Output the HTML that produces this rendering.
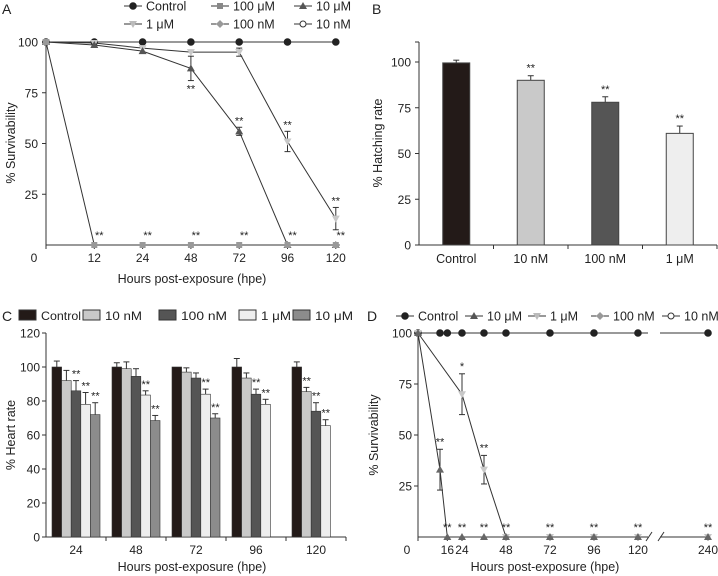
<!DOCTYPE html>
<html><head><meta charset="utf-8"><style>
body{margin:0;background:#fff}
svg{display:block;font-family:"Liberation Sans",sans-serif;}
text{fill:#222}
</style></head><body>
<svg id="fig" width="718" height="576" viewBox="0 0 718 576"></svg>
<script>
// Panel A data
const aCats=["0","12","24","48","72","96","120"];
const aControl=[100,100,100,100,100,100,100];
const a1uM=[100,99.5,97,95,95,51,13];
const a1uMErr=[0,0,0,0,2,5,5.5];
const a10uM=[100,98.5,95.5,87,56,0,0];
const a10uMErr=[0,0,0,6,2,0,0];
const a100uM=[100,0,0,0,0,0,0];
const aYTicks=[0,25,50,75,100];
// Panel B data
const bCats=["Control","10 nM","100 nM","1 μM"];
const bVals=[99.5,90,78,61];
const bErr=[1.5,2.5,3,4];
const bYTicks=[0,25,50,75,100];
// Panel C data
const cCats=["24","48","72","96","120"];
const cSeries=["Control","10 nM","100 nM","1 μM","10 μM"];
const cControl=[100,100,100,100,100];
const c10nM=[92,99,97,93.5,85.5];
const c100nM=[86,94.5,93.5,84,74];
const c1uM=[78,83.5,84,78,65.5];
const c10uM=[72,68.5,70,null,null];
const cErrControl=[3.5,2.5,0,5,3];
const cErr10nM=[6,4,2.5,3,2.5];
const cErr100nM=[6,4.5,3,3,5];
const cErr1uM=[7,2.5,3,3,3.5];
const cErr10uM=[7,3,2.5,0,0];
const cYTicks=[0,20,40,60,80,100,120];
// Panel D data
const dXTicks=[0,16,24,48,72,96,120,240];
const dControlT=[0,12,16,24,36,48,72,96,120,240];
const dControl=[100,100,100,100,100,100,100,100,100,100];
const d1uMT=[0,24,36,48,72,96,120,240];
const d1uM=[100,70,33,0,0,0,0,0];
const d1uMErr=[0,10,7,0,0,0,0,0];
const d10uMT=[0,12,16,24,36,48,72,96,120,240];
const d10uM=[100,33,0,0,0,0,0,0,0,0];
const d10uMErr=[0,10,0,0,0,0,0,0,0,0];
const dYTicks=[0,25,50,75,100];

const NS="http://www.w3.org/2000/svg";
const svg=document.getElementById('fig');
function el(tag,attrs,parent){const e=document.createElementNS(NS,tag);for(const k in attrs)e.setAttribute(k,attrs[k]);(parent||svg).appendChild(e);return e;}
function txt(x,y,s,size,anchor,parent){const t=el('text',{x:x,y:y,'font-size':size,'text-anchor':anchor||'middle'},parent);t.textContent=s;return t;}
function marker(g,type,x,y,fill){
  if(type==='circle')return el('circle',{cx:x,cy:y,r:3.3,fill:fill,stroke:'#222','stroke-width':1},g);
  if(type==='square')return el('rect',{x:x-3,y:y-3,width:6,height:6,fill:fill},g);
  if(type==='tri')return el('polygon',{points:`${x},${y-4} ${x-4},${y+3} ${x+4},${y+3}`,fill:fill},g);
  if(type==='dtri')return el('polygon',{points:`${x},${y+4} ${x-4},${y-3} ${x+4},${y-3}`,fill:fill},g);
  if(type==='diamond')return el('polygon',{points:`${x},${y-4} ${x+4},${y} ${x},${y+4} ${x-4},${y}`,fill:fill},g);
}
function legendLine(g,x,y,type,fill,label,open){
  el('line',{x1:x-9,y1:y,x2:x+9,y2:y,stroke:'#333','stroke-width':1},g);
  if(open) el('circle',{cx:x,cy:y,r:3,fill:'#fff',stroke:'#333','stroke-width':1},g);
  else marker(g,type,x,y,fill);
  txt(x+13,y+4.5,label,12.5,'start',g);
}
function errSym(g,x,y,d){el('line',{x1:x,y1:y-d,x2:x,y2:y+d,stroke:'#333'},g);el('line',{x1:x-3,y1:y-d,x2:x+3,y2:y-d,stroke:'#333'},g);el('line',{x1:x-3,y1:y+d,x2:x+3,y2:y+d,stroke:'#333'},g);}
function errUp(g,x,y1,y2){el('line',{x1:x,y1:y1,x2:x,y2:y2,stroke:'#333'},g);el('line',{x1:x-3,y1:y2,x2:x+3,y2:y2,stroke:'#333'},g);}

// ===== Panel A =====
(function(){
const g=el('g',{});  
const x0=46,step=48.3; const X=i=>x0+i*step; const Y=v=>245-v*2.03;
txt(2,14,'A',14,'start',g);
const lg=el('g',{},g);  
legendLine(lg,133,6,'circle','#222','Control');
legendLine(lg,220,6,'square','#888','100 μM');
legendLine(lg,303,6,'tri','#555','10 μM');
legendLine(lg,133,24,'dtri','#bbb','1 μM');
legendLine(lg,220,24,'diamond','#999','100 nM');
legendLine(lg,303,24,'circle','#fff','10 nM',true);
el('line',{x1:x0,y1:42,x2:x0,y2:245,stroke:'#333'},g);
el('line',{x1:x0,y1:245,x2:X(6)+4,y2:245,stroke:'#333'},g);
aYTicks.forEach(v=>{if(v>0){el('line',{x1:x0-4,y1:Y(v),x2:x0,y2:Y(v),stroke:'#333'},g);txt(x0-8,Y(v)+4.5,String(v),12,'end',g);}});
aCats.forEach((c,i)=>{el('line',{x1:X(i),y1:245,x2:X(i),y2:249,stroke:'#333'},g);txt(i===0?34:X(i),262,c,12,'middle',g);});
txt(192,283,'Hours post-exposure (hpe)',12.5,'middle',g);
const yt=txt(15,143,'% Survivability',12.5,'middle',g); yt.setAttribute('transform','rotate(-90 15 143)');
function series(vals,type,fill,err,name){
  const s=el('g',{},g);  
  el('polyline',{points:vals.map((v,i)=>X(i)+','+Y(v)).join(' '),fill:'none',stroke:'#333','stroke-width':1},s);
  vals.forEach((v,i)=>{if(err&&err[i])errSym(s,X(i),Y(v),err[i]*2.03);marker(s,type,X(i),Y(v),fill);});
}
series(aControl,'circle','#222',null,'series-control');
series(a1uM,'dtri','#c8c8c8',a1uMErr,'series-1um');
series(a10uM,'tri','#555',a10uMErr,'series-10um');
series(a100uM,'square','#999',null,'series-100um');
[1,2,3,4,5,6].forEach(i=>txt(X(i)+5,Y(0)-6,'**',11,'middle',g));
txt(X(3),Y(a10uM[3]-a10uMErr[3])+12,'**',11,'middle',g);
txt(X(4),Y(a10uM[4]+a10uMErr[4])-3,'**',11,'middle',g);
txt(X(5),Y(a1uM[5]+a1uMErr[5])-3,'**',11,'middle',g);
txt(X(6),Y(a1uM[6]+a1uMErr[6])-3,'**',11,'middle',g);
})();

// ===== Panel B =====
(function(){
const g=el('g',{});  
const x0=419,w=74.5; const Y=v=>245-v*1.83;
txt(372,14,'B',14,'start',g);
el('line',{x1:x0,y1:42,x2:x0,y2:245,stroke:'#333'},g);
el('line',{x1:x0,y1:245,x2:717,y2:245,stroke:'#333'},g);
el('line',{x1:x0-4,y1:42,x2:x0,y2:42,stroke:'#333'},g);
bYTicks.forEach(v=>{el('line',{x1:x0-4,y1:Y(v),x2:x0,y2:Y(v),stroke:'#333'},g);txt(x0-8,Y(v)+4.5,String(v),12,'end',g);});
const fills=['#231a18','#c9c9c9','#555','#eeeeee'];
bCats.forEach((c,i)=>{
  const cx=x0+w*(i+0.5);
  el('line',{x1:x0+w*(i+1),y1:245,x2:x0+w*(i+1),y2:249,stroke:'#333'},g);
  errUp(g,cx,Y(bVals[i]),Y(bVals[i]+bErr[i]));
  const r=el('rect',{x:cx-13.5,y:Y(bVals[i]),width:27,height:245-Y(bVals[i]),fill:fills[i],stroke:'#444','stroke-width':1},g);
   
  txt(cx,263,c,12.5,'middle',g);
  if(i>0)txt(cx,Y(bVals[i]+bErr[i])-4,'**',11,'middle',g);
});
const yt=txt(382,143,'% Hatching rate',12.5,'middle',g); yt.setAttribute('transform','rotate(-90 382 143)');
})();

// ===== Panel C =====
(function(){
const g=el('g',{});  
const x0=46,gw=60; const Y=v=>537-v*1.7;
txt(2,321,'C',14,'start',g);
const fills=['#231a18','#c9c9c9','#555','#eeeeee','#8c8c8c'];
const lg=el('g',{},g);  
const lx=[19,83,159,239,293];
const tl=[40,37,46,30,38];
cSeries.forEach((s,i)=>{el('rect',{x:lx[i],y:310,width:17,height:10,fill:fills[i],stroke:'#333','stroke-width':1},lg);const t=txt(lx[i]+22,320,s,12,'start',lg);t.setAttribute('textLength',tl[i]);t.setAttribute('lengthAdjust','spacingAndGlyphs');});
el('line',{x1:x0,y1:333,x2:x0,y2:537,stroke:'#333'},g);
el('line',{x1:x0,y1:537,x2:346,y2:537,stroke:'#333'},g);
cYTicks.forEach(v=>{el('line',{x1:x0-4,y1:Y(v),x2:x0,y2:Y(v),stroke:'#333'},g);txt(x0-6,Y(v)+4.5,String(v),12,'end',g);});
const vals=[cControl,c10nM,c100nM,c1uM,c10uM];
const errs=[cErrControl,cErr10nM,cErr100nM,cErr1uM,cErr10uM];
cCats.forEach((c,gi)=>{
  const gx=x0+gi*gw;
  el('line',{x1:gx+gw,y1:537,x2:gx+gw,y2:541,stroke:'#333'},g);
  txt(gx+gw/2,554,c,12,'middle',g);
  vals.forEach((arr,si)=>{
    const v=arr[gi]; if(v==null)return;
    const bx=gx+6+si*9.6;
    if(errs[si][gi])errUp(g,bx+4.8,Y(v),Y(v+errs[si][gi]));
    const r=el('rect',{x:bx,y:Y(v),width:9.6,height:537-Y(v),fill:fills[si],stroke:'#333','stroke-width':0.6},g);
     
    if(si>0 && (v<88 || (gi===4&&si===1)))txt(bx+5,Y(v+errs[si][gi])-3,'**',11,'middle',g);
  });
});
txt(192,571,'Hours post-exposure (hpe)',12.5,'middle',g);
const yt=txt(15,435,'% Heart rate',12.5,'middle',g); yt.setAttribute('transform','rotate(-90 15 435)');
})();

// ===== Panel D =====
(function(){
const g=el('g',{});  
const x0=418; const X=t=>t<=120?x0+t*1.833:708-(240-t)*0.3; const Y=v=>537-v*2.04;
txt(367,321,'D',14,'start',g);
const lg=el('g',{},g);  
legendLine(lg,405,316,'circle','#222','Control');
legendLine(lg,474,316,'tri','#555','10 μM');
legendLine(lg,537,316,'dtri','#bbb','1 μM');
legendLine(lg,600,316,'diamond','#999','100 nM');
legendLine(lg,671,316,'circle','#fff','10 nM',true);
el('line',{x1:x0,y1:333,x2:x0,y2:537,stroke:'#333'},g);
el('line',{x1:x0,y1:537,x2:648,y2:537,stroke:'#333'},g);
el('line',{x1:660,y1:537,x2:708,y2:537,stroke:'#333'},g);
el('line',{x1:646,y1:541,x2:652,y2:532,stroke:'#333'},g);
el('line',{x1:658,y1:541,x2:664,y2:532,stroke:'#333'},g);
dYTicks.forEach(v=>{if(v>0){el('line',{x1:x0-4,y1:Y(v),x2:x0,y2:Y(v),stroke:'#333'},g);txt(x0-6,Y(v)+4.5,String(v),12,'end',g);}});
dXTicks.forEach(t=>{el('line',{x1:X(t),y1:537,x2:X(t),y2:541,stroke:'#333'},g);txt(t===0?407:X(t),554,String(t),12,'middle',g);});
txt(545,571,'Hours post-exposure (hpe)',12.5,'middle',g);
const yt=txt(378,435,'% Survivability',12.5,'middle',g); yt.setAttribute('transform','rotate(-90 378 435)');
function series(ts,vals,type,fill,err,name){
  const s=el('g',{},g);  
  const a=[];ts.forEach((t,i)=>{if(t<=120)a.push(X(t)+','+Y(vals[i]));});
  if(name==='series-control'){el('polyline',{points:a.join(' ')+' 648,'+Y(100),fill:'none',stroke:'#333'},s);el('line',{x1:660,y1:Y(100),x2:X(240),y2:Y(100),stroke:'#333'},s);}
  else{el('polyline',{points:a.join(' '),fill:'none',stroke:'#333'},s);}
  ts.forEach((t,i)=>{if(err&&err[i])errSym(s,X(t),Y(vals[i]),err[i]*2.04);marker(s,type,X(t),Y(vals[i]),fill);});
}
series(dControlT,dControl,'circle','#222',null,'series-control');
series(d1uMT,d1uM,'dtri','#c8c8c8',d1uMErr,'series-1um');
series(d10uMT,d10uM,'tri','#666',d10uMErr,'series-10um');
[16,24,36,48,72,96,120,240].forEach(t=>txt(X(t),Y(0)-6,'**',11,'middle',g));
txt(X(12),Y(43)-4,'**',11,'middle',g);
txt(X(24),Y(80)-4,'*',11,'middle',g);
txt(X(36),Y(40)-4,'**',11,'middle',g);
})();
</script>
</body></html>
